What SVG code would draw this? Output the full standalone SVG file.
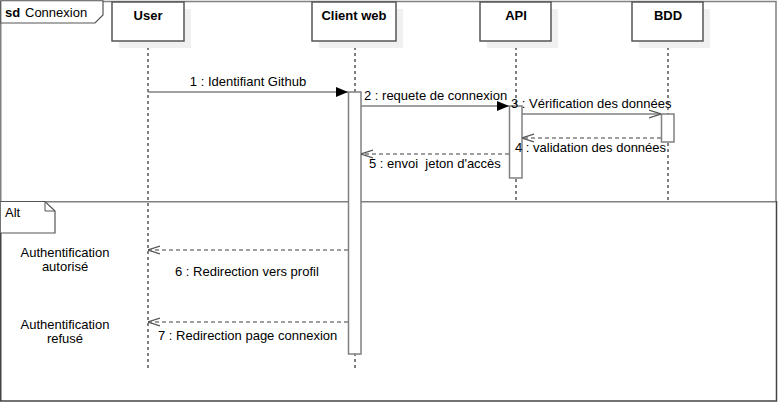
<svg xmlns="http://www.w3.org/2000/svg" width="778" height="402" viewBox="0 0 778 402">
<style>
text{font-family:"Liberation Sans",Arial,sans-serif;font-size:13px;fill:#000}
.b{font-weight:bold}
.actor{fill:#fff;stroke:#555;stroke-width:1.5}
.shadow{fill:#f0f0f0}
.life{stroke:#000;stroke-width:1;stroke-dasharray:3,3;fill:none}
.act{fill:#fff;stroke:#808080;stroke-width:1.5}
.msg{stroke:#808080;stroke-width:1.5;fill:none}
.ret{stroke:#808080;stroke-width:1.5;fill:none;stroke-dasharray:4,3}
.frame{fill:none;stroke:#808080;stroke-width:1.5}
</style>
<defs>
<marker id="filled" viewBox="0 0 12 10" refX="12" refY="5" markerWidth="12" markerHeight="10" markerUnits="userSpaceOnUse" orient="auto">
<path d="M0,0 L12,5 L0,10 Z" fill="#000"/>
</marker>
<marker id="open" viewBox="0 0 12 10" refX="12" refY="5" markerWidth="12" markerHeight="10" markerUnits="userSpaceOnUse" orient="auto">
<path d="M0,1 L12,5 L0,9" fill="none" stroke="#555" stroke-width="1.2"/>
</marker>
</defs>
<rect width="778" height="402" fill="#fff"/>
<g id="frame-sd">
<path d="M0.75,201 V1.5 H776 V201" class="frame"/>
<path d="M0.75,0.75 H103 V15 L95,23 H0.75 Z" fill="#fff" stroke="#555" stroke-width="1.2"/>
<text x="5" y="17" class="b">sd</text>
<text x="25" y="17">Connexion</text>
</g>
<g id="frame-alt">
<path d="M0.75,201.75 H776" stroke="#808080" stroke-width="1.5"/>
<path d="M776.5,201 V401 H0.75 V201" fill="none" stroke="#444" stroke-width="1.5"/>
<path d="M0.75,201.5 H45 L55,211 V233 H0.75" fill="#fff" stroke="#555" stroke-width="1.2"/>
<path d="M45,201.5 V211 H55" fill="none" stroke="#555" stroke-width="1"/>
<text x="5" y="217">Alt</text>
</g>
<g id="lifelines">
<line x1="148" y1="41" x2="148" y2="368" class="life"/>
<line x1="355" y1="41" x2="355" y2="368" class="life"/>
<line x1="516" y1="41" x2="516" y2="201" class="life"/>
<line x1="668" y1="41" x2="668" y2="201" class="life"/>
</g>
<g id="user">
<rect x="119" y="9" width="72" height="39" class="shadow"/>
<rect x="112" y="2" width="72" height="39" class="actor"/>
<text x="148" y="20" text-anchor="middle" class="b">User</text>
</g>
<g id="client-web">
<rect x="319" y="9" width="84" height="39" class="shadow"/>
<rect x="312" y="2" width="84" height="39" class="actor"/>
<text x="354" y="20" text-anchor="middle" class="b">Client web</text>
</g>
<g id="api">
<rect x="487" y="9" width="71" height="39" class="shadow"/>
<rect x="480" y="2" width="71" height="39" class="actor"/>
<text x="516" y="20" text-anchor="middle" class="b">API</text>
</g>
<g id="bdd">
<rect x="639" y="9" width="71" height="39" class="shadow"/>
<rect x="632" y="2" width="71" height="39" class="actor"/>
<text x="668" y="20" text-anchor="middle" class="b">BDD</text>
</g>
<g id="activations">
<rect x="348.5" y="92" width="12.5" height="262" class="act"/>
<rect x="509.5" y="106" width="12.5" height="72" class="act"/>
<rect x="661.5" y="114" width="12.5" height="28" class="act"/>
</g>
<g id="connectors">
<line x1="148" y1="92" x2="348" y2="92" class="msg" marker-end="url(#filled)"/>
<line x1="361" y1="106" x2="509" y2="106" class="msg" marker-end="url(#filled)"/>
<line x1="522" y1="114" x2="661" y2="114" class="msg" marker-end="url(#open)"/>
<line x1="661" y1="138" x2="522" y2="138" class="ret" marker-end="url(#open)"/>
<line x1="509" y1="154" x2="361" y2="154" class="ret" marker-end="url(#open)"/>
<line x1="348" y1="250" x2="148" y2="250" class="ret" marker-end="url(#open)"/>
<line x1="348" y1="322" x2="148" y2="322" class="ret" marker-end="url(#open)"/>
</g>
<g id="labels">
<text x="248" y="86" text-anchor="middle">1 : Identifiant Github</text>
<text x="364" y="100">2 : requete de connexion</text>
<text x="511" y="108">3 : Vérification des données</text>
<text x="515" y="152">4 : validation des données</text>
<text x="369" y="168" xml:space="preserve">5 : envoi  jeton d'accès</text>
<text x="175" y="276">6 : Redirection vers profil</text>
<text x="158" y="340">7 : Redirection page connexion</text>
<text x="65" y="257" text-anchor="middle">Authentification</text>
<text x="65" y="271" text-anchor="middle">autorisé</text>
<text x="65" y="329" text-anchor="middle">Authentification</text>
<text x="65" y="343" text-anchor="middle">refusé</text>
</g>
</svg>
